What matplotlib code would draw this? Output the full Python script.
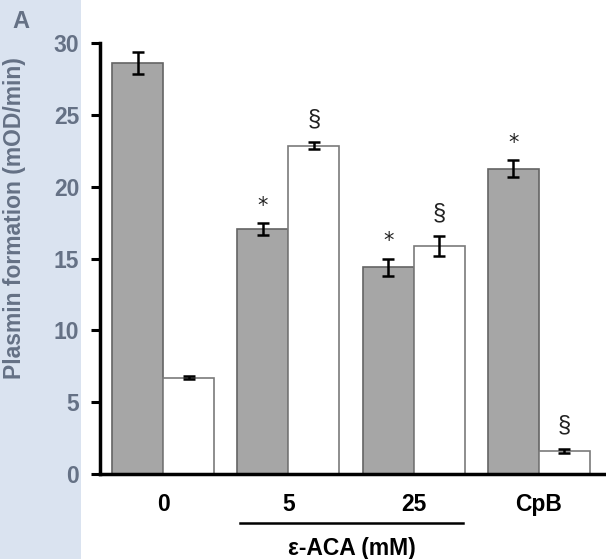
import matplotlib
matplotlib.use("Agg")
import matplotlib.pyplot as plt
from matplotlib.patches import Rectangle
from matplotlib.lines import Line2D

categories = ["0", "5", "25", "CpB"]
gray_vals = [28.6, 17.05, 14.4, 21.25]
gray_err = [0.75, 0.4, 0.6, 0.6]
white_vals = [6.7, 22.85, 15.85, 1.6]
white_err = [0.1, 0.25, 0.7, 0.15]
gray_marks = ["", "*", "*", "*"]
white_marks = ["", "§", "§", "§"]
yticks = [0, 5, 10, 15, 20, 25, 30]

plt.rcParams['font.family'] = ['Liberation Sans', 'DejaVu Sans']

W, H = 606, 559
fig = plt.figure(figsize=(W / 100, H / 100), dpi=100)
fig.patches.append(Rectangle((0, 0), 81 / W, 1, transform=fig.transFigure,
                             facecolor="#dae3f0", edgecolor="none", zorder=-10))

ax = fig.add_axes([100 / W, (H - 474) / H, (W - 100) / W, 431 / H])
ax.patch.set_alpha(0)

bw = 0.407
xs = list(range(len(categories)))
gx = [x - bw / 2 for x in xs]
wx = [x + bw / 2 for x in xs]
ax.bar(gx, gray_vals, width=bw, color="#a6a6a6", edgecolor="#646464", linewidth=1.2, zorder=2)
ax.bar(wx, white_vals, width=bw, color="white", edgecolor="#7a7a7a", linewidth=1.2, zorder=2)
ax.errorbar(gx, gray_vals, yerr=gray_err, fmt="none", ecolor="black", elinewidth=1.8,
            capsize=4, capthick=1.8, zorder=3)
ax.errorbar(wx, white_vals, yerr=white_err, fmt="none", ecolor="black", elinewidth=1.8,
            capsize=4, capthick=1.8, zorder=3)

for x, v, e, m in zip(gx, gray_vals, gray_err, gray_marks):
    if m:
        ax.text(x, v + e + 1.2, m, ha="center", va="center", fontsize=15, color="#222222",
                family="DejaVu Sans")
for x, v, e, m in zip(wx, white_vals, white_err, white_marks):
    if m:
        ax.text(x, v + e + 1.6, m, ha="center", va="center", fontsize=17, color="#222222")

ax.set_xlim(-0.503, 3.535)
ax.set_ylim(0, 30)
ax.set_yticks(yticks)
ax.set_yticklabels([str(t) for t in yticks], fontsize=16.5, fontweight="bold", color="#657185")
ax.set_xticks(xs)
ax.set_xticklabels(categories, fontsize=16.5, fontweight="bold", color="black")
ax.tick_params(axis="y", direction="out", length=6.5, width=2.2, pad=8.5, color="black")
ax.tick_params(axis="x", length=0, pad=14)

for s in ["top", "right"]:
    ax.spines[s].set_visible(False)
ax.spines["left"].set_linewidth(2.5)
ax.spines["bottom"].set_linewidth(2.5)

fig.text(15 / W, 1 - 218 / H, "Plasmin formation (mOD/min)", rotation=90, ha="center",
         va="center", fontsize=16.5, fontweight="bold", color="#657185")
fig.text(21 / W, 1 - 21 / H, "A", ha="center", va="center", fontsize=17,
         fontweight="bold", color="#657185")

fig.add_artist(Line2D([240 / W, 463 / W], [1 - 523 / H, 1 - 523 / H], color="black",
                      linewidth=1.8, transform=fig.transFigure))
fig.text(352 / W, 1 - 549 / H, "ε-ACA (mM)", ha="center", va="center", fontsize=16.5,
         fontweight="bold", color="black")

fig.savefig("out.png", dpi=100)
